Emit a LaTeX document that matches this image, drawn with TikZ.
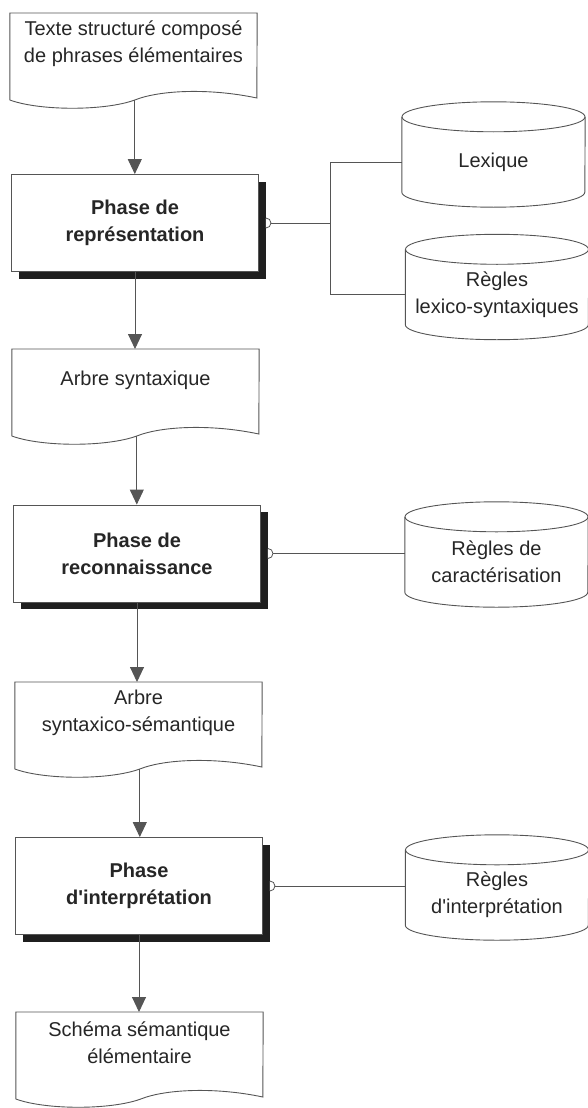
\documentclass[tikz,border=0pt]{standalone}
\usepackage{fontspec}
\setmainfont{Liberation Sans}
\usepackage{tikz}
\usetikzlibrary{arrows.meta,calc,shadows}
\definecolor{inkgray}{HTML}{262626}
\definecolor{linegray}{HTML}{555555}
\newcommand\diagfont{\fontsize{20pt}{27pt}\selectfont}
\tikzset{every node/.style={text=inkgray, font=\diagfont},
	doc/.style={minimum width=247pt, minimum height=62pt, inner sep=0pt, align=center, anchor=north},
	phase/.style={draw=linegray, fill=white, line width=0.9pt, minimum width=247pt, minimum height=97pt,
		align=center, font={\diagfont\bfseries},
		drop shadow={shadow xshift=7pt, shadow yshift=-7pt, fill=black!88, opacity=1}},
	base/.style={minimum width=183pt, minimum height=60pt, inner sep=0pt, align=center},
	outline/.style={draw=linegray, line width=0.9pt},
	flow/.style={draw=linegray, line width=0.9pt, -{Triangle[length=15pt,width=14pt]}},
	link/.style={draw=linegray, line width=0.8pt}}
% document symbol: straight top, wavy bottom
\newcommand\docoutline[1]{%
	\draw[outline] ($(#1.north west)+(0,87)$) -- (#1.north west) -- (#1.north east)
	-- ($(#1.north west)+(247,85)$)
	.. controls ($(#1.north west)+(200,75)$) and ($(#1.north west)+(150,77)$) .. ($(#1.north west)+(125,87)$) coordinate (#1-out)
	.. controls ($(#1.north west)+(95,98)$) and ($(#1.north west)+(30,98)$) .. ($(#1.north west)+(0,87)$);}
% data store: cylinder
\newcommand\baseoutline[1]{%
	\draw[outline] ($(#1.north west)+(0,-15)$) -- (#1.south west)
	arc[start angle=180, end angle=360, x radius=91.5pt, y radius=15pt]
	-- ($(#1.north east)+(0,-15)$);
	\draw[outline] ($(#1.north)+(0,-15)$) ellipse [x radius=91.5pt, y radius=15pt];}
% open half circle on the right of a phase
\newcommand\port[1]{%
	\draw[link, fill=white] ($(#1.east)+(7,5)$) arc[start angle=-90, end angle=90, radius=5pt];
	\coordinate (#1-port) at ($(#1.east)+(12,0)$);}

\begin{document}
\begin{tikzpicture}[x=1pt, y=-1pt]
	\useasboundingbox (0,0) rectangle (588,1108);
	\node[doc] (intro) at (133.5,13) {Texte structuré composé\\de phrases élémentaires};
	\node[phase] (repr) at (135,223) {Phase de\\représentation};
	\node[doc] (arbre) at (135.5,349) {Arbre syntaxique};
	\node[phase] (recon) at (137,553.5) {Phase de\\reconnaissance};
	\node[doc] (arbresem) at (138.5,682) {Arbre\\syntaxico-sémantique};
	\node[phase] (interp) at (139,886) {Phase\\d\textquotesingle interprétation};
	\node[doc] (schema) at (139.5,1012) {Schéma sémantique\\élémentaire};
	\node[base] (lexique) at (493.5,162) {Lexique};
	\node[base] (reglex) at (497,294.5) {Règles\\lexico-syntaxiques};
	\node[base] (regcar) at (496.5,562) {Règles de\\caractérisation};
	\node[base] (regint) at (497,895) {Règles\\d\textquotesingle interprétation};
	\docoutline{intro}
	\docoutline{arbre}
	\docoutline{arbresem}
	\docoutline{schema}
	\baseoutline{lexique}
	\baseoutline{reglex}
	\baseoutline{regcar}
	\baseoutline{regint}
	\draw[flow] (intro-out) -- (intro-out |- repr.north);
	\draw[flow] (repr.south) -- (repr.south |- arbre.north);
	\draw[flow] (arbre-out) -- (arbre-out |- recon.north);
	\draw[flow] (recon.south) -- (recon.south |- arbresem.north);
	\draw[flow] (arbresem-out) -- (arbresem-out |- interp.north);
	\draw[flow] (interp.south) -- (interp.south |- schema.north);
	\port{repr}
	\port{recon}
	\port{interp}
	\coordinate (fork) at (330,223);
	\draw[link] (repr-port) -- (fork);
	\draw[link] (fork) |- (lexique);
	\draw[link] (fork) |- (reglex);
	\draw[link] (recon-port) -- (recon-port -| regcar.west);
	\draw[link] (interp-port) -- (interp-port -| regint.west);
\end{tikzpicture}
\end{document}
